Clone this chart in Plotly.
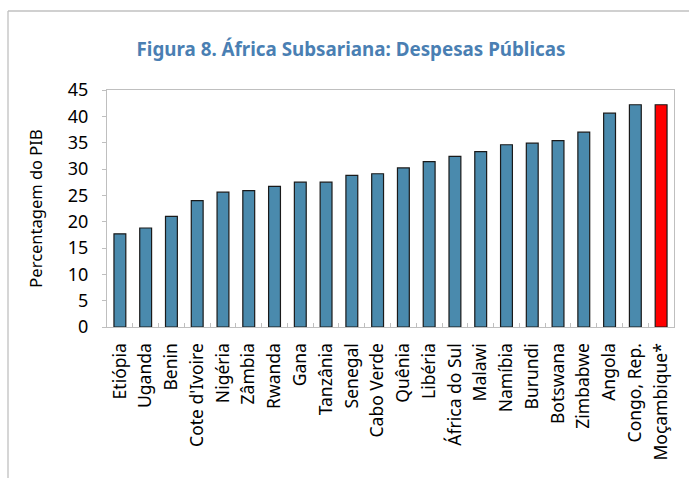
import plotly.graph_objects as go

# Public spending in Sub-Saharan Africa, % of GDP
paises = ["Etiópia", "Uganda", "Benin", "Cote d'Ivoire", "Nigéria", "Zâmbia",
          "Rwanda", "Gana", "Tanzânia", "Senegal", "Cabo Verde", "Quênia",
          "Libéria", "África do Sul", "Malawi", "Namíbia", "Burundi",
          "Botswana", "Zimbabwe", "Angola", "Congo, Rep.", "Moçambique*"]
despesas = [17.7, 18.8, 21.0, 24.0, 25.6, 25.9, 26.7, 27.5, 27.5, 28.8, 29.1,
            30.2, 31.4, 32.4, 33.3, 34.6, 34.9, 35.4, 37.0, 40.6, 42.2, 42.2]
destaque = "Moçambique*"
y_ticks = [0, 5, 10, 15, 20, 25, 30, 35, 40, 45]

AZUL = "#4a8aad"
VERMELHO = "#ff0000"
cores = [VERMELHO if p == destaque else AZUL for p in paises]

W, H = 689, 478
L, R, T, B = 107, 15, 90, 151
pw, ph = W - L - R, H - T - B


def px_x(x):
    return (x - L) / pw


def px_y(y):
    return (H - B - y) / ph


fig = go.Figure(go.Bar(
    x=paises, y=despesas,
    marker=dict(color=cores, line=dict(color="#1a1a1a", width=1.2)),
    width=0.46,
))

FONT = "Noto Sans"
fig.update_layout(
    width=W, height=H,
    margin=dict(l=L, r=R, t=T, b=B),
    paper_bgcolor="white", plot_bgcolor="white",
    showlegend=False,
    font=dict(family=FONT, size=14, color="black"),
    title=dict(
        text="<b>Figura 8. África Subsariana: Despesas Públicas</b>",
        x=px_x(351), xref="paper", xanchor="center",
        y=1 - 49 / H, yref="container", yanchor="middle",
        font=dict(family=FONT, size=18.8, color="#4a7fb3"),
    ),
    xaxis=dict(
        type="category",
        showline=True, linecolor="#bfbfbf", linewidth=1.3, mirror=True,
        ticks="inside", tickson="boundaries", ticklen=4, tickcolor="#bfbfbf",
        tickangle=-90, tickfont=dict(size=17.5), ticklabelstandoff=8,
        showgrid=False,
    ),
    yaxis=dict(
        range=[0, 45], tickvals=y_ticks,
        showline=True, linecolor="#bfbfbf", linewidth=1.3, mirror=True,
        ticks="outside", ticklen=4, tickcolor="#bfbfbf",
        tickfont=dict(size=18), ticklabelstandoff=10,
        showgrid=False, zeroline=False,
        title=dict(text="Percentagem do PIB", font=dict(size=16.5), standoff=20),
    ),
    shapes=[
        dict(type="line", xref="paper", yref="paper",
             x0=px_x(8), x1=px_x(700), y0=px_y(11), y1=px_y(11),
             line=dict(color="#c0c0c0", width=1.3)),
        dict(type="line", xref="paper", yref="paper",
             x0=px_x(8), x1=px_x(8), y0=px_y(11), y1=px_y(490),
             line=dict(color="#c0c0c0", width=1.3)),
    ],
)

fig.write_html("out.html")
